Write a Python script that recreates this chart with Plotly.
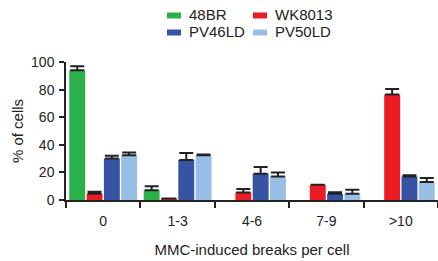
import plotly.graph_objects as go

categories = ["0", "1-3", "4-6", "7-9", ">10"]
series_names = ["48BR", "WK8013", "PV46LD", "PV50LD"]
values = {
    "48BR":   [94, 7, None, None, None],
    "WK8013": [4.5, 1, 5.5, 11, 76.5],
    "PV46LD": [30, 29, 19, 4.5, 17],
    "PV50LD": [32.5, 32.5, 17, 4.5, 13],
}
errors = {
    "48BR":   [3, 3, None, None, None],
    "WK8013": [1.5, None, 2.5, None, 4],
    "PV46LD": [2, 5, 5, 1.2, 1],
    "PV50LD": [2, 0.4, 3, 3, 3],
}
colors = {
    "48BR": "#2cb04a",
    "WK8013": "#ec1c24",
    "PV46LD": "#3753a4",
    "PV50LD": "#97bfe6",
}
y_ticks = [0, 20, 40, 60, 80, 100]

W, H = 438, 261
ML, MR, MT, MB = 66, 0, 62, 61
FONT = "Liberation Sans, Arial, sans-serif"

fig = go.Figure()
for name in series_names:
    fig.add_trace(go.Bar(
        x=categories, y=values[name], name=name,
        marker=dict(color=colors[name], line=dict(width=0)),
        error_y=dict(type="data", symmetric=False, array=errors[name],
                     arrayminus=[0] * len(categories),
                     color="#222222", thickness=2, width=7),
        showlegend=False,
    ))

# manual legend (2 x 2 grid)
pw = W - ML - MR
ph = H - MT - MB
def px_x(px):
    return (px - ML) / pw
def px_y(py):
    return (H - MB - py) / ph

legend_pos = [("48BR", 167, 15.5), ("WK8013", 253, 15.5),
              ("PV46LD", 167, 32.5), ("PV50LD", 253, 32.5)]
shapes = []
annotations = []
for name, lx, ly in legend_pos:
    shapes.append(dict(type="rect", xref="paper", yref="paper",
                       x0=px_x(lx), x1=px_x(lx + 14),
                       y0=px_y(ly + 3), y1=px_y(ly - 3),
                       fillcolor=colors[name], line=dict(width=0)))
    annotations.append(dict(text=name, xref="paper", yref="paper",
                            x=px_x(lx + 20), y=px_y(ly - 1),
                            xanchor="left", yanchor="middle", showarrow=False,
                            font=dict(size=15, color="#222222", family=FONT)))

fig.update_layout(
    width=W, height=H,
    margin=dict(l=ML, r=MR, t=MT, b=MB, pad=0, autoexpand=False),
    paper_bgcolor="white", plot_bgcolor="white",
    barmode="group", bargap=0.07, bargroupgap=0.08,
    font=dict(family=FONT, size=14, color="#222222"),
    shapes=shapes, annotations=annotations,
    xaxis=dict(
        type="category", tickson="boundaries", ticks="outside", ticklen=6,
        tickwidth=1.5, tickcolor="#222222",
        showline=True, linecolor="#222222", linewidth=1.5,
        showgrid=False, zeroline=False, automargin=False,
        tickfont=dict(size=14), ticklabelstandoff=7,
        title=dict(text="MMC-induced breaks per cell", font=dict(size=15), standoff=17),
        range=[-0.5, 4.5],
    ),
    yaxis=dict(
        range=[0, 100], tickvals=y_ticks, ticks="outside", ticklen=5,
        tickwidth=1.5, tickcolor="#222222",
        showline=True, linecolor="#222222", linewidth=1.5,
        showgrid=False, zeroline=False, automargin=False,
        tickfont=dict(size=14), ticklabelstandoff=2,
        title=dict(text="% of cells", font=dict(size=15), standoff=4),
    ),
)

fig.write_html(
    "out.html",
    config={"displayModeBar": False},
    post_script="document.body.style.margin='0';document.body.style.overflow='hidden';",
)
